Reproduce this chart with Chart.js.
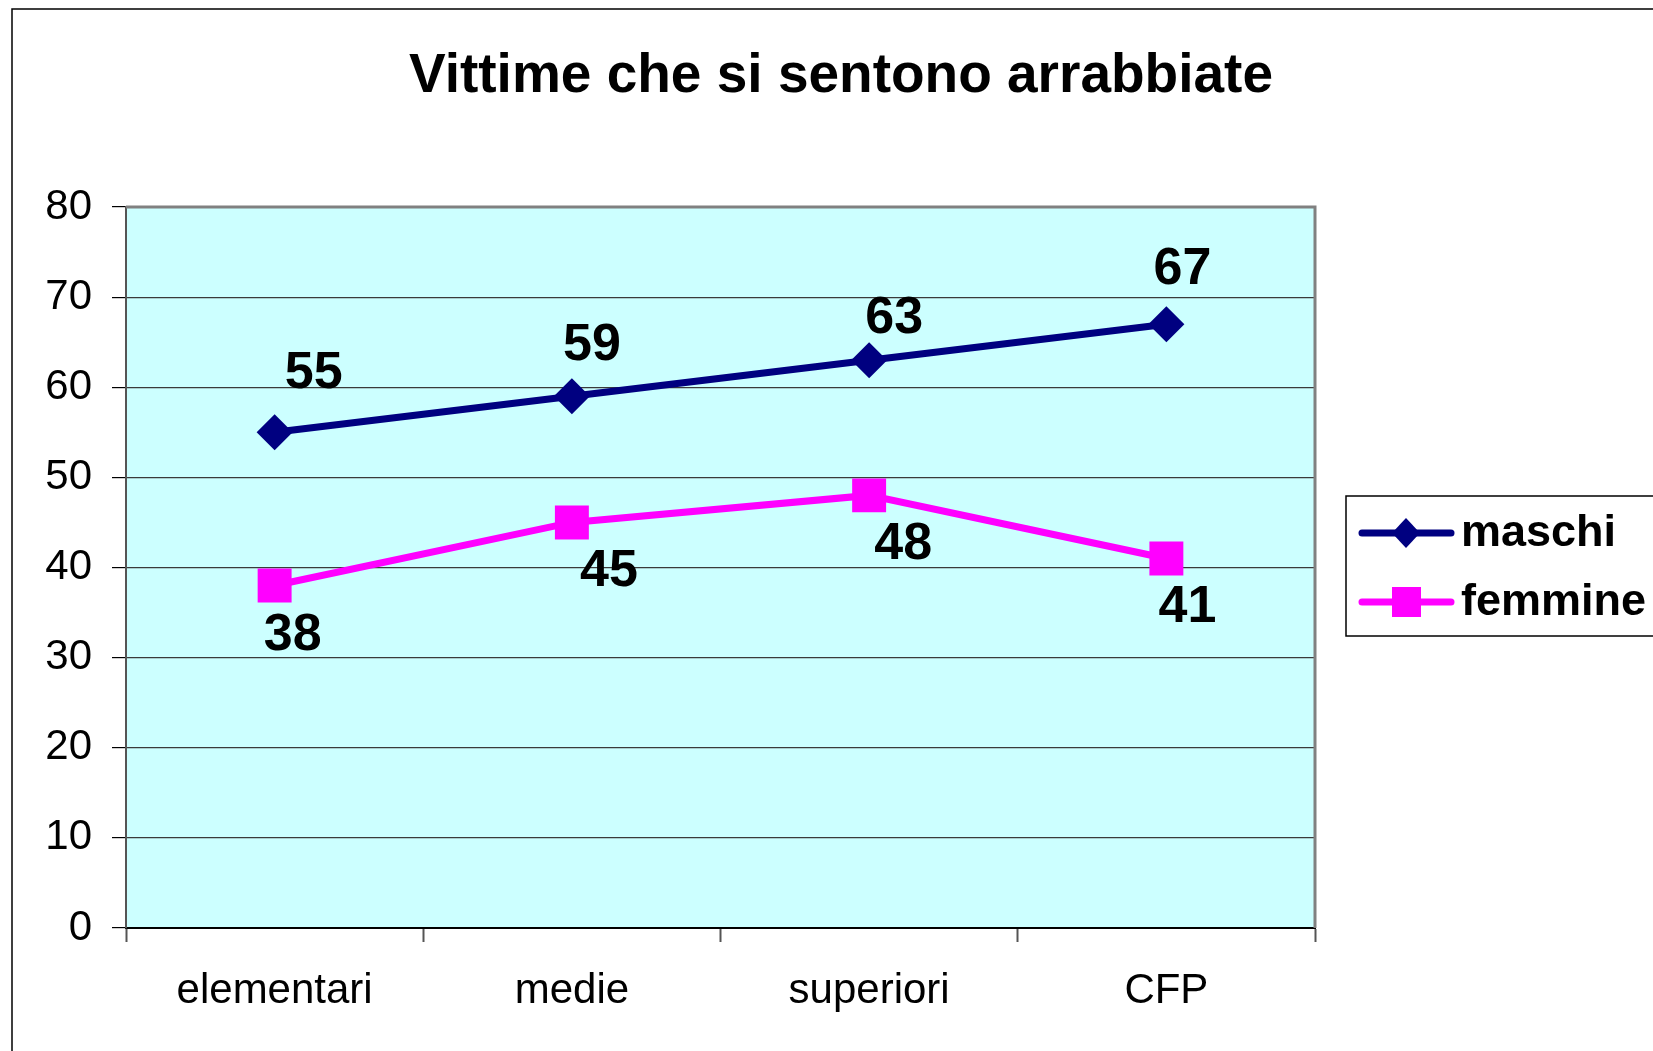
<!DOCTYPE html>
<html>
<head>
<meta charset="utf-8">
<script src="https://cdn.jsdelivr.net/npm/chart.js@4/dist/chart.umd.min.js"></script>
<style>
  html, body { margin: 0; padding: 0; background: #fff; }
  #wrap { width: 1653px; height: 1051px; position: relative; }
</style>
</head>
<body>
<div id="wrap"><canvas id="chart"></canvas></div>
<script>
const categories = ['elementari', 'medie', 'superiori', 'CFP'];
const maschi = [55, 59, 63, 67];
const femmine = [38, 45, 48, 41];
const yTicks = [0, 10, 20, 30, 40, 50, 60, 70, 80];

const FONT = "'Liberation Sans', Arial, sans-serif";

// sfondo, cornice esterna, titolo e legenda disegnati a mano (stile Excel)
const excelLook = {
    id: 'excelLook',
    beforeDraw(chart) {
        const ctx = chart.ctx;
        const a = chart.chartArea;
        ctx.save();
        ctx.fillStyle = '#ffffff';
        ctx.fillRect(0, 0, chart.width, chart.height);
        // cornice esterna
        ctx.strokeStyle = '#000000';
        ctx.lineWidth = 1.5;
        ctx.strokeRect(12, 9, chart.width + 20, chart.height + 20);
        // area del grafico
        ctx.fillStyle = '#ccffff';
        ctx.fillRect(a.left, a.top, a.right - a.left, a.bottom - a.top);
        ctx.restore();
    },
    beforeDatasetsDraw(chart) {
        const ctx = chart.ctx;
        const a = chart.chartArea;
        ctx.save();
        ctx.strokeStyle = '#808080';
        ctx.lineWidth = 3;
        ctx.beginPath();
        ctx.moveTo(a.left, a.top);
        ctx.lineTo(a.right, a.top);
        ctx.lineTo(a.right, a.bottom);
        ctx.stroke();
        ctx.restore();
    },
    afterDraw(chart, args, opts) {
        const ctx = chart.ctx;
        ctx.save();
        // titolo
        ctx.fillStyle = '#000';
        ctx.font = 'bold 55px ' + FONT;
        ctx.textAlign = 'center';
        ctx.textBaseline = 'middle';
        ctx.fillText(opts.title, 841, 77);

        // legenda
        const lx = 1346, ly = 496;
        ctx.strokeStyle = '#000';
        ctx.lineWidth = 1.5;
        ctx.strokeRect(lx, ly, 340, 140);
        chart.data.datasets.forEach((ds, i) => {
            const y = 533 + i * 69;
            ctx.strokeStyle = ds.borderColor;
            ctx.lineWidth = 7;
            ctx.lineCap = 'round';
            ctx.beginPath();
            ctx.moveTo(1362, y);
            ctx.lineTo(1451, y);
            ctx.stroke();
            ctx.fillStyle = ds.borderColor;
            ctx.beginPath();
            if (ds.pointStyle === 'rectRot') {
                ctx.moveTo(1406, y - 15);
                ctx.lineTo(1420, y);
                ctx.lineTo(1406, y + 15);
                ctx.lineTo(1392, y);
                ctx.closePath();
            } else {
                ctx.rect(1392, y - 15, 29, 30);
            }
            ctx.fill();
            ctx.fillStyle = '#000';
            ctx.font = 'bold 45px ' + FONT;
            ctx.textAlign = 'left';
            ctx.fillText(ds.label, 1461, y + 1);
        });
        ctx.restore();
    },
    afterDatasetsDraw(chart, args, opts) {
        const ctx = chart.ctx;
        ctx.save();
        ctx.fillStyle = '#000';
        ctx.font = 'bold 52px ' + FONT;
        ctx.textAlign = 'center';
        ctx.textBaseline = 'middle';
        chart.data.datasets.forEach((ds, i) => {
            const offs = opts.offsets[i];
            chart.getDatasetMeta(i).data.forEach((pt, j) => {
                ctx.fillText(ds.data[j], pt.x + offs[j][0], pt.y + offs[j][1]);
            });
        });
        ctx.restore();
    }
};

new Chart(document.getElementById('chart'), {
    type: 'line',
    data: {
        labels: categories,
        datasets: [
            {
                label: 'maschi',
                data: maschi,
                borderColor: '#000080',
                backgroundColor: '#000080',
                borderWidth: 7,
                pointStyle: 'rectRot',
                pointRadius: 18,
                pointHoverRadius: 18,
                pointBorderWidth: 0,
                tension: 0
            },
            {
                label: 'femmine',
                data: femmine,
                borderColor: '#ff00ff',
                backgroundColor: '#ff00ff',
                borderWidth: 7,
                pointStyle: 'rect',
                pointRadius: 24,
                pointHoverRadius: 24,
                pointBorderWidth: 0,
                tension: 0
            }
        ]
    },
    options: {
        responsive: true,
        maintainAspectRatio: false,
        animation: false,
        events: [],
        layout: {
            padding: { top: 207, left: 0, right: 338, bottom: 0 }
        },
        scales: {
            x: {
                type: 'category',
                offset: true,
                grid: {
                    offset: true,
                    drawOnChartArea: false,
                    tickLength: 14,
                    tickWidth: 2,
                    tickColor: '#555'
                },
                border: { color: '#000', width: 2 },
                ticks: {
                    color: '#000',
                    padding: 24,
                    font: { family: FONT, size: 42 }
                },
                afterFit(scale) { scale.height = 123; }
            },
            y: {
                min: 0,
                max: 80,
                afterBuildTicks(scale) {
                    scale.ticks = yTicks.map(v => ({ value: v }));
                },
                grid: {
                    color: '#3a3a3a',
                    lineWidth: 1.2,
                    tickLength: 14,
                    tickColor: '#000'
                },
                border: { color: '#555', width: 2 },
                ticks: {
                    color: '#000',
                    padding: 20,
                    font: { family: FONT, size: 42 }
                },
                afterFit(scale) { scale.width = 126; }
            }
        },
        plugins: {
            legend: { display: false },
            title: { display: false },
            tooltip: { enabled: false },
            excelLook: {
                title: 'Vittime che si sentono arrabbiate',
                offsets: [
                    [[39, -59], [20, -51], [25, -42], [16, -55]],
                    [[18, 50], [37, 49], [34, 49], [21, 49]]
                ]
            }
        }
    },
    plugins: [excelLook]
});
</script>
</body>
</html>
